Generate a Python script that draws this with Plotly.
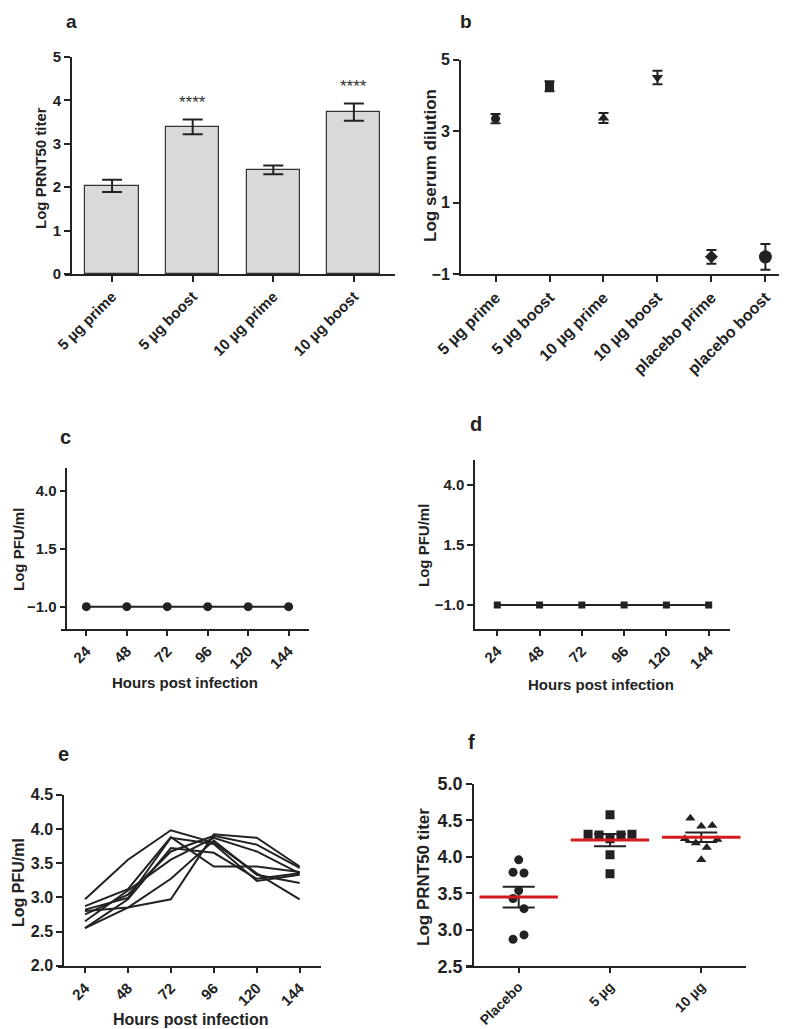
import numpy as np
import plotly.graph_objects as go

W, H = 787, 1029
FONT = "Liberation Sans, Arial, sans-serif"
INK = "#222222"


def px(x):
    return x / W


def py(y):
    return 1 - y / H


# ---------------- data ----------------
# panel a
a_groups = ["5 µg prime", "5 µg boost", "10 µg prime", "10 µg boost"]
a_means = [2.03, 3.39, 2.40, 3.73]
a_err = [0.14, 0.17, 0.10, 0.20]
a_sig = ["", "****", "", "****"]

# panel b
b_groups = ["5 µg prime", "5 µg boost", "10 µg prime", "10 µg boost",
            "placebo prime", "placebo boost"]
b_means = [3.35, 4.26, 3.37, 4.50, -0.52, -0.52]
b_err = [0.13, 0.14, 0.14, 0.19, 0.19, 0.36]
b_symbols = ["circle", "square", "triangle-up", "triangle-down", "diamond", "circle"]
b_sizes = [9, 9, 10, 10, 10, 13]

# panels c, d, e
hours = [24, 48, 72, 96, 120, 144]
c_values = [-1.0, -1.0, -1.0, -1.0, -1.0, -1.0]
d_values = [-1.0, -1.0, -1.0, -1.0, -1.0, -1.0]
e_animal1 = [2.97, 3.55, 3.98, 3.80, 3.35, 2.97]
e_animal2 = [2.80, 2.85, 2.97, 3.92, 3.87, 3.45]
e_animal3 = [2.87, 3.12, 3.88, 3.45, 3.45, 3.37]
e_animal4 = [2.55, 2.97, 3.72, 3.65, 3.27, 3.35]
e_animal5 = [2.75, 3.04, 3.67, 3.90, 3.77, 3.43]
e_animal6 = [2.65, 3.10, 3.55, 3.87, 3.67, 3.35]
e_animal7 = [2.55, 2.85, 3.27, 3.83, 3.33, 3.21]
e_animal8 = [2.82, 2.99, 3.87, 3.78, 3.24, 3.33]
e_lines = [e_animal1, e_animal2, e_animal3, e_animal4,
           e_animal5, e_animal6, e_animal7, e_animal8]

# panel f
f_groups = ["Placebo", "5 µg", "10 µg"]
f_placebo = [3.96, 3.79, 3.78, 3.54, 3.43, 3.29, 2.87, 2.93]
f_5ug = [4.58, 4.31, 4.30, 4.30, 4.31, 4.25, 4.03, 3.77]
f_10ug = [4.53, 4.42, 4.43, 4.25, 4.19, 4.24, 4.13, 3.96]
f_series = [f_placebo, f_5ug, f_10ug]
f_symbols = ["circle", "square", "triangle-up"]
# horizontal scatter (jitter) used for drawing, in category units
f_jitter = [
    [0.0, -0.062, 0.058, 0.0, -0.062, 0.058, -0.062, 0.058],
    [0.0, -0.24, -0.12, 0.12, 0.24, 0.0, 0.0, 0.0],
    [-0.12, 0.0, 0.12, -0.18, -0.06, 0.175, 0.06, 0.0],
]

# ---------------- figure ----------------
fig = go.Figure()

# panel a: bars
a_x = list(range(len(a_groups)))
fig.add_trace(go.Bar(
    x=a_x, y=a_means, width=0.66,
    marker=dict(color="#d9d9d9", line=dict(color="#333333", width=1.2)),
    error_y=dict(type="data", array=a_err, color=INK, thickness=2, width=10),
    xaxis="x", yaxis="y"))

# panel b: points with error bars
for i, g in enumerate(b_groups):
    fig.add_trace(go.Scatter(
        x=[i], y=[b_means[i]], mode="markers",
        marker=dict(symbol=b_symbols[i], size=b_sizes[i], color=INK),
        error_y=dict(type="data", array=[b_err[i]], color=INK, thickness=2, width=5),
        xaxis="x2", yaxis="y2"))

# panel c
fig.add_trace(go.Scatter(
    x=hours, y=c_values, mode="lines+markers",
    line=dict(color=INK, width=2),
    marker=dict(symbol="circle", size=9, color=INK),
    xaxis="x3", yaxis="y3"))

# panel d
fig.add_trace(go.Scatter(
    x=hours, y=d_values, mode="lines+markers",
    line=dict(color=INK, width=2),
    marker=dict(symbol="square", size=7, color=INK),
    xaxis="x4", yaxis="y4"))

# panel e
for line in e_lines:
    fig.add_trace(go.Scatter(
        x=hours, y=line, mode="lines",
        line=dict(color=INK, width=2),
        xaxis="x5", yaxis="y5"))

# panel f
for i, vals in enumerate(f_series):
    arr = np.array(vals)
    fig.add_trace(go.Scatter(
        x=[i + j for j in f_jitter[i]], y=vals, mode="markers",
        marker=dict(symbol=f_symbols[i], size=9, color=INK),
        xaxis="x6", yaxis="y6"))
    mean = float(arr.mean())
    sem = float(arr.std(ddof=1) / np.sqrt(len(arr)))
    fig.add_trace(go.Scatter(
        x=[i], y=[mean], mode="markers",
        marker=dict(symbol="line-ew", size=1, color="rgba(0,0,0,0)",
                    line=dict(width=0)),
        error_y=dict(type="data", array=[sem], color=INK, thickness=2, width=16),
        xaxis="x6", yaxis="y6"))
    fig.add_trace(go.Scatter(
        x=[i], y=[mean], mode="markers",
        marker=dict(symbol="line-ew", size=56, color="#d71920",
                    line=dict(color="#d71920", width=3)),
        xaxis="x6", yaxis="y6"))


def axis(size=15, lw=2, **kw):
    d = dict(showline=True, linecolor=INK, linewidth=lw, ticks="outside",
             ticklen=6, tickwidth=1.5, tickcolor=INK, showgrid=False,
             zeroline=False, automargin=False,
             tickfont=dict(family=FONT, size=size, color=INK, weight="bold"))
    d.update(kw)
    return d


layout = dict(
    width=W, height=H, autosize=False,
    margin=dict(l=0, r=0, t=0, b=0, pad=0, autoexpand=False),
    paper_bgcolor="white", plot_bgcolor="white",
    showlegend=False, bargap=0,
    font=dict(family=FONT, color=INK),
)

# a
layout["xaxis"] = axis(15, domain=[px(57), px(387)], anchor="y",
                       range=[-0.584, 3.51], tickmode="array",
                       tickvals=a_x, ticktext=a_groups, tickangle=-45)
layout["yaxis"] = axis(15, domain=[py(266), py(49)], anchor="free",
                       position=px(63), range=[0, 5], tickvals=[0, 1, 2, 3, 4, 5])
# b
b_x = list(range(len(b_groups)))
layout["xaxis2"] = axis(16, domain=[px(453), px(786)], anchor="y2",
                        range=[-0.64, 5.53], tickmode="array",
                        tickvals=b_x, ticktext=b_groups, tickangle=-45)
layout["yaxis2"] = axis(16, domain=[py(266), py(51.7)], anchor="x2",
                        range=[-1, 5], tickvals=[-1, 1, 3, 5])
# c
layout["xaxis3"] = axis(15, lw=1.5, domain=[px(52.5), px(300.7)], anchor="y3",
                        range=[8.65, 155.9], tickvals=hours, tickangle=-45)
layout["yaxis3"] = axis(15, lw=1.5, domain=[py(620.7), py(460)], anchor="free",
                        position=px(58.4), range=[-1.95, 4.98],
                        tickvals=[-1.0, 1.5, 4.0], tickformat=".1f")
# d
layout["xaxis4"] = axis(15, lw=1.5, domain=[px(467), px(722)], anchor="y4",
                        range=[11.35, 156.1], tickvals=hours, tickangle=-45)
layout["yaxis4"] = axis(15, lw=1.5, domain=[py(620.7), py(451.7)], anchor="x4",
                        range=[-1.98, 5.03],
                        tickvals=[-1.0, 1.5, 4.0], tickformat=".1f")
# e
layout["xaxis5"] = axis(15, lw=1.5, domain=[px(50), px(313.3)], anchor="y5",
                        range=[8.9, 156.1], tickvals=hours, tickangle=-45)
layout["yaxis5"] = axis(16, lw=1.5, domain=[py(957.7), py(786.7)], anchor="free",
                        position=px(55), range=[2.0, 4.5],
                        tickvals=[2.0, 2.5, 3.0, 3.5, 4.0, 4.5], tickformat=".1f")
# f
layout["xaxis6"] = axis(14, lw=1.5, domain=[px(458.3), px(738.3)], anchor="y6",
                        range=[-0.574, 2.493], tickmode="array", ticklen=5,
                        tickvals=[0, 1, 2], ticktext=f_groups, tickangle=-45)
layout["yaxis6"] = axis(18, lw=1.5, domain=[py(958.3), py(776)], anchor="free",
                        position=px(465), range=[2.5, 5.0],
                        tickvals=[2.5, 3.0, 3.5, 4.0, 4.5, 5.0], tickformat=".1f")

fig.update_layout(**layout)

# ---------------- text ----------------
ann = []


def paper_text(text, x, y, size, angle=0, bold=True, yanchor="middle"):
    ann.append(dict(text=text, x=px(x), y=py(y), xref="paper", yref="paper",
                    xanchor="center", yanchor=yanchor, showarrow=False,
                    textangle=angle,
                    font=dict(family=FONT, size=size, color=INK,
                              weight="bold" if bold else "normal")))


# panel letters
paper_text("a", 63, 0.5, 19, yanchor="top")
paper_text("b", 458, 0.5, 19, yanchor="top")
for lab, x, y in [("c", 57, 429), ("d", 468, 416), ("e", 55, 746), ("f", 464, 734)]:
    paper_text(lab, x, y, 20)

# axis titles
paper_text("Log PRNT50 titer", 32, 160, 15, -90)
paper_text("Log serum dilution", 423, 158, 17, -90)
paper_text("Log PFU/ml", 10, 542, 15, -90)
paper_text("Log PFU/ml", 415, 538, 15, -90)
paper_text("Log PFU/ml", 10, 875, 16, -90)
paper_text("Log PRNT50 titer", 415, 869, 17, -90)
paper_text("Hours post infection", 177, 674, 15)
paper_text("Hours post infection", 593, 676, 15)
paper_text("Hours post infection", 183, 1011, 16)

# significance stars in panel a
for i, s in enumerate(a_sig):
    if s:
        ann.append(dict(text=s, x=i, y=a_means[i] + a_err[i] + 0.4,
                        xref="x", yref="y", showarrow=False,
                        xanchor="center", yanchor="middle",
                        font=dict(family=FONT, size=17, color="#333333")))

fig.update_layout(annotations=ann)
fig.write_html("out.html")
